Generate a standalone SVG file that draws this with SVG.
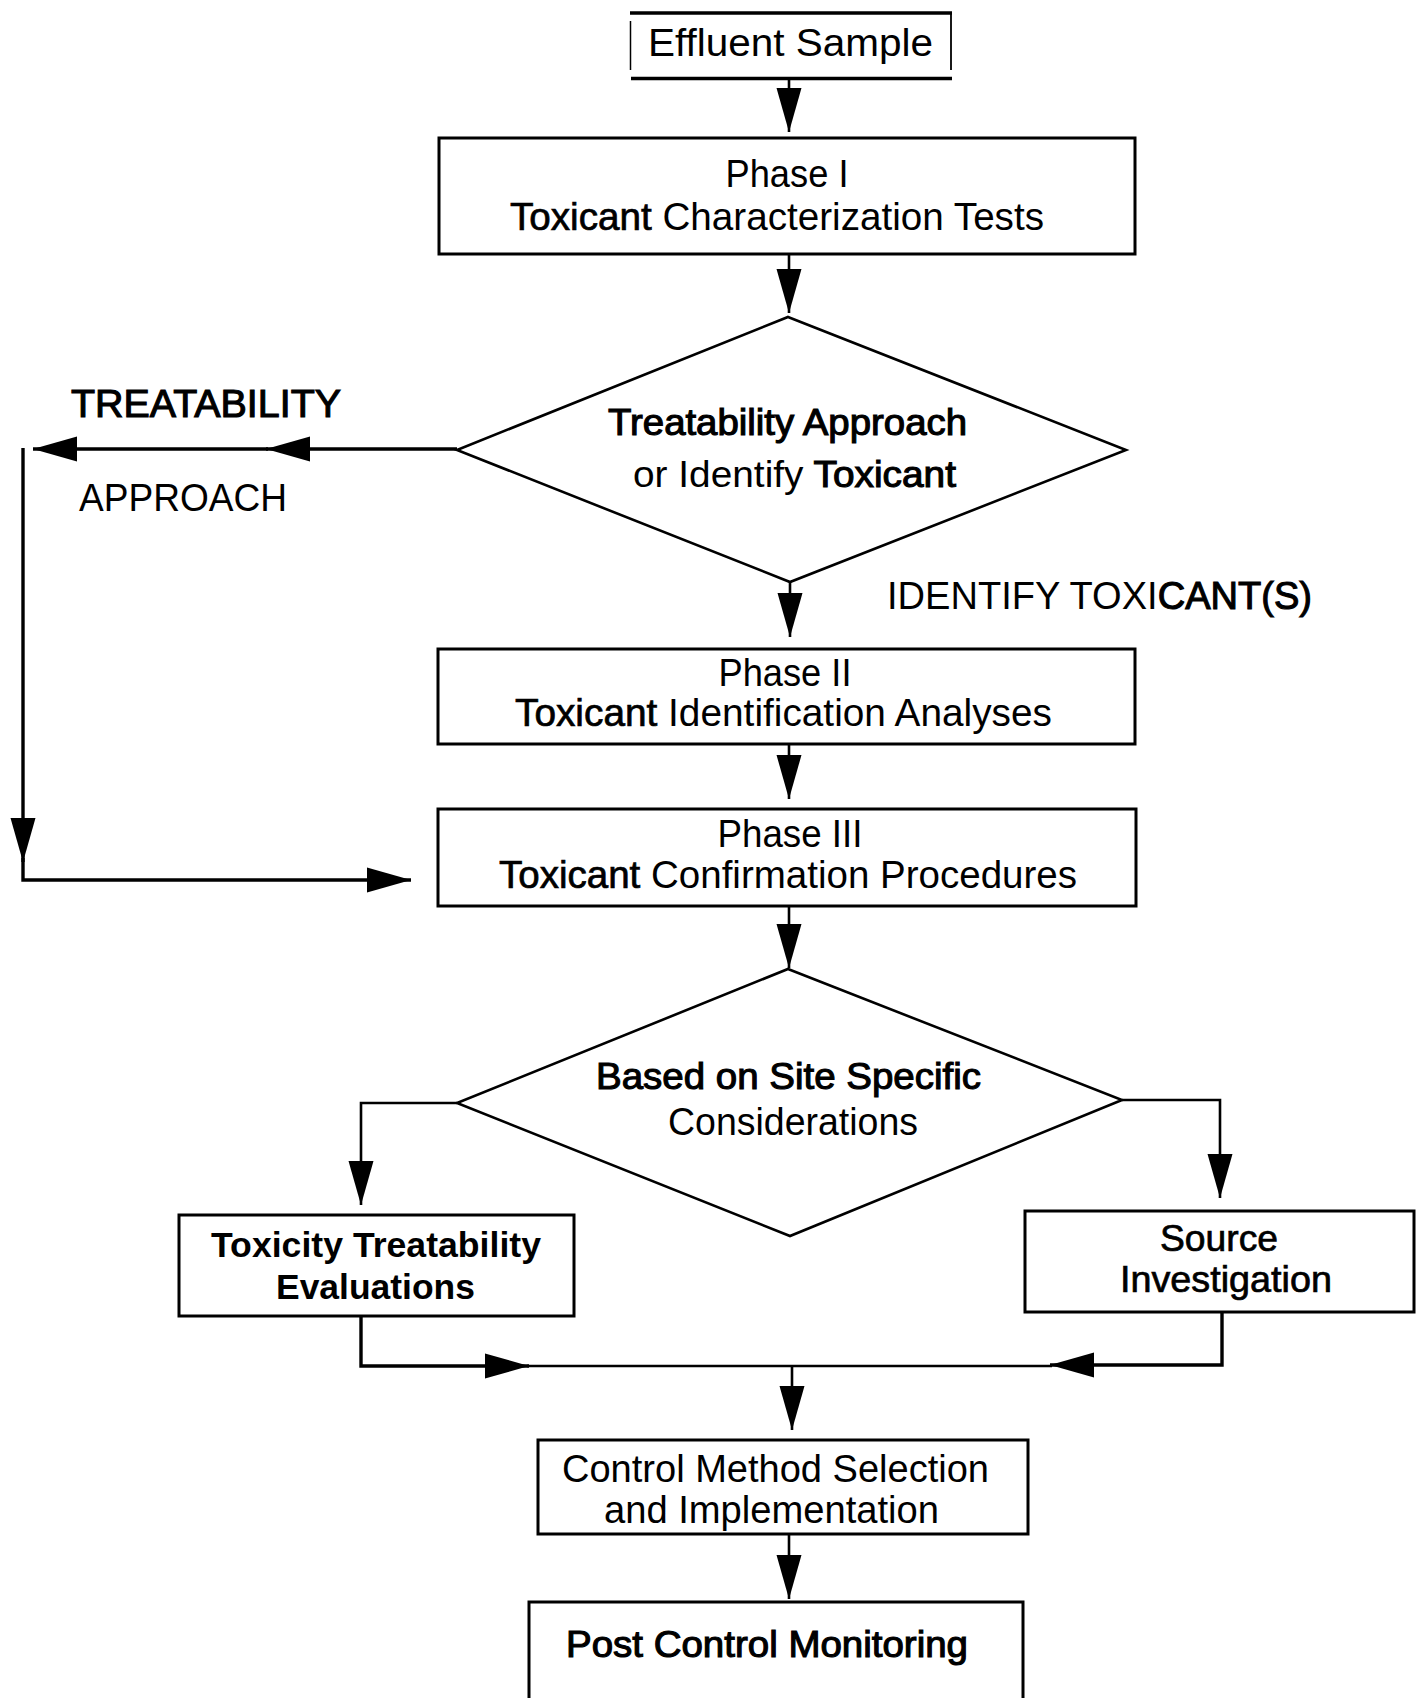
<svg xmlns="http://www.w3.org/2000/svg" width="1416" height="1698" viewBox="0 0 1416 1698">
<style>
  .box { fill: #fff; stroke: #000; stroke-width: 3; }
  .dia { fill: #fff; stroke: #000; stroke-width: 2.6; stroke-linejoin: miter; }
  .edge { fill: none; stroke: #000; stroke-width: 2.6; }
  .thick { stroke-width: 3.4; }
  text { font-family: "Liberation Sans", Arial, Helvetica, sans-serif; fill: #000; font-size: 38px; }
  .b { font-weight: bold; }
  .m { stroke: #000; stroke-width: 1.1px; }
  .s { stroke: #000; stroke-width: 0.7px; }
  .c { text-anchor: middle; }
</style>
<defs>
  <marker id="ah" markerUnits="userSpaceOnUse" markerWidth="46" markerHeight="26" refX="44" refY="12.5" orient="auto" overflow="visible">
    <path d="M0,0 L44,12.5 L0,25 Z" fill="#000"/>
  </marker>
</defs>
<rect width="1416" height="1698" fill="#fff"/>

<g id="connectors">
  <path class="edge" d="M789 79 V132" marker-end="url(#ah)"/>
  <path class="edge" d="M789 255 V313" marker-end="url(#ah)"/>
  <path class="edge thick" d="M457 449 H266" marker-end="url(#ah)"/>
  <path class="edge thick" d="M268 449 H33" marker-end="url(#ah)"/>
  <path class="edge thick" d="M23 448 V862" marker-end="url(#ah)"/>
  <path class="edge thick" d="M23 858 V880 H411" marker-end="url(#ah)"/>
  <path class="edge" d="M790 582 V637" marker-end="url(#ah)"/>
  <path class="edge" d="M789 744 V799" marker-end="url(#ah)"/>
  <path class="edge" d="M789 906 V968" marker-end="url(#ah)"/>
  <path class="edge" d="M457 1103 H361 V1205" marker-end="url(#ah)"/>
  <path class="edge" d="M1122 1100 H1220 V1198" marker-end="url(#ah)"/>
  <path class="edge thick" d="M361 1316 V1366 H529" marker-end="url(#ah)"/>
  <path class="edge" d="M527 1366 H1052"/>
  <path class="edge thick" d="M1222 1312 V1365 H1050" marker-end="url(#ah)"/>
  <path class="edge" d="M792 1366 V1430" marker-end="url(#ah)"/>
  <path class="edge" d="M789 1534 V1599" marker-end="url(#ah)"/>
</g>

<g id="effluent">
  <rect x="631" y="13" width="321" height="66" fill="#fff"/>
  <line x1="630" y1="13" x2="952" y2="13" stroke="#000" stroke-width="3.5"/>
  <line x1="631" y1="78.5" x2="952" y2="78.5" stroke="#000" stroke-width="3.5"/>
  <line x1="630.5" y1="21" x2="630.5" y2="70" stroke="#000" stroke-width="1.5"/>
  <line x1="951" y1="14" x2="951" y2="70" stroke="#000" stroke-width="1.8"/>
  <text x="648" y="56" textLength="285" lengthAdjust="spacingAndGlyphs">Effluent Sample</text>
</g>

<g id="phase1">
  <rect class="box" x="439" y="138" width="696" height="116"/>
  <text x="787" y="187" class="c" textLength="123" lengthAdjust="spacingAndGlyphs">Phase I</text>
  <text x="510" y="229.5" textLength="534" lengthAdjust="spacingAndGlyphs"><tspan class="s">Toxicant</tspan> Characterization Tests</text>
</g>

<g id="decision1">
  <polygon class="dia" points="788,317 1126,450 790,582 457,450"/>
  <text x="608" y="435" class="m" style="font-size:36px" textLength="359" lengthAdjust="spacingAndGlyphs">Treatability Approach</text>
  <text x="633" y="487" style="font-size:37px" textLength="323" lengthAdjust="spacingAndGlyphs">or Identify <tspan class="m">Toxicant</tspan></text>
</g>

<g id="label-treatability">
  <text x="71" y="417" class="m" style="font-size:38px" textLength="270" lengthAdjust="spacingAndGlyphs">TREATABILITY</text>
  <text x="79" y="511" textLength="208" lengthAdjust="spacingAndGlyphs">APPROACH</text>
</g>

<g id="label-identify">
  <text x="887" y="609" textLength="425" lengthAdjust="spacingAndGlyphs">IDENTIFY TOXI<tspan class="m">CANT(S)</tspan></text>
</g>

<g id="phase2">
  <rect class="box" x="438" y="649" width="697" height="95"/>
  <text x="785" y="686" class="c" textLength="133" lengthAdjust="spacingAndGlyphs">Phase II</text>
  <text x="515" y="726" textLength="537" lengthAdjust="spacingAndGlyphs"><tspan class="s">Toxicant</tspan> Identification Analyses</text>
</g>

<g id="phase3">
  <rect class="box" x="438" y="809" width="698" height="97"/>
  <text x="790" y="847" class="c" textLength="145" lengthAdjust="spacingAndGlyphs">Phase III</text>
  <text x="499" y="888" textLength="578" lengthAdjust="spacingAndGlyphs"><tspan class="s">Toxicant</tspan>  Confirmation  Procedures</text>
</g>

<g id="decision2">
  <polygon class="dia" points="788,969 1122,1100 790,1236 457,1103"/>
  <text x="596" y="1089" class="m" style="font-size:37px" textLength="385" lengthAdjust="spacingAndGlyphs">Based on Site Specific</text>
  <text x="668" y="1135" textLength="250" lengthAdjust="spacingAndGlyphs">Considerations</text>
</g>

<g id="toxicity">
  <rect class="box" x="179" y="1215" width="395" height="101"/>
  <text x="211" y="1257" class="b" style="font-size:35px" textLength="330" lengthAdjust="spacingAndGlyphs">Toxicity Treatability</text>
  <text x="276" y="1298.5" class="b" style="font-size:35px" textLength="199" lengthAdjust="spacingAndGlyphs">Evaluations</text>
</g>

<g id="source">
  <rect class="box" x="1025" y="1211" width="389" height="101"/>
  <text x="1160" y="1251" class="s" style="font-size:37px" textLength="118" lengthAdjust="spacingAndGlyphs">Source</text>
  <text x="1120" y="1292" class="s" style="font-size:37px" textLength="212" lengthAdjust="spacingAndGlyphs">Investigation</text>
</g>

<g id="control">
  <rect class="box" x="538" y="1440" width="490" height="94"/>
  <text x="562" y="1482" textLength="427" lengthAdjust="spacingAndGlyphs">Control Method Selection</text>
  <text x="604" y="1523" textLength="335" lengthAdjust="spacingAndGlyphs">and Implementation</text>
</g>

<g id="monitoring">
  <rect class="box" x="529" y="1602" width="494" height="130"/>
  <text x="566" y="1657" class="m" style="font-size:36px" textLength="402" lengthAdjust="spacingAndGlyphs">Post Control Monitoring</text>
</g>
</svg>
